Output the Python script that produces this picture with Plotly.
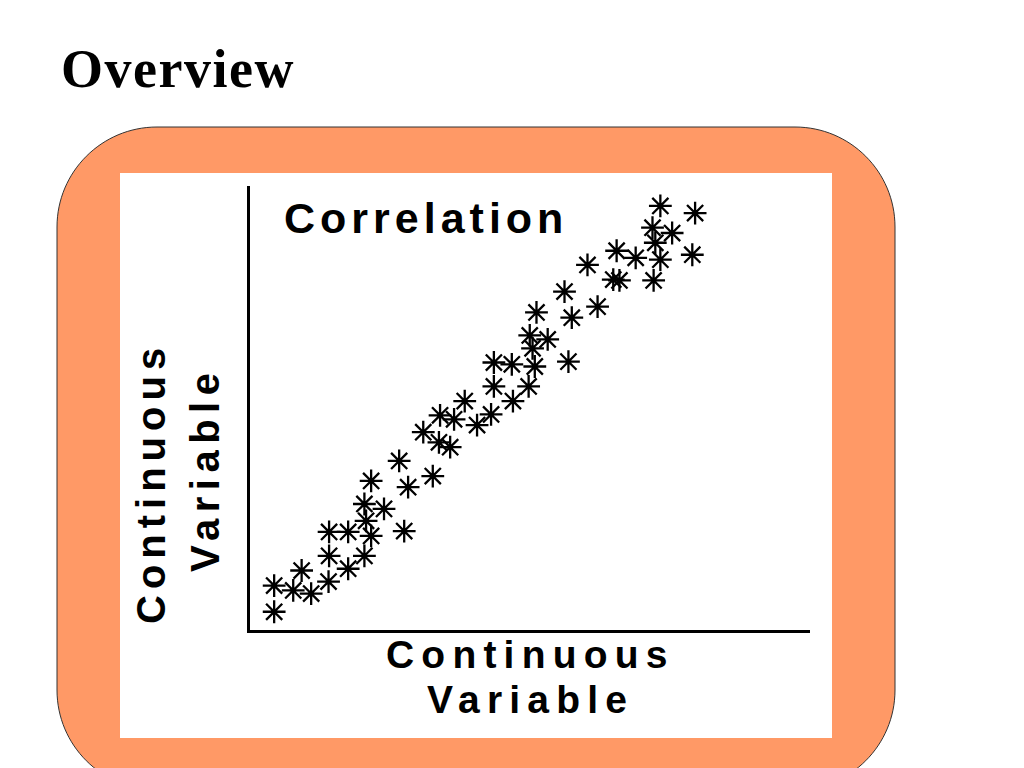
import plotly.graph_objects as go

# Data (arbitrary 0-100 units)
x_values = [73.3, 79.5, 71.9, 75.4, 72.4, 65.5, 68.9, 73.3, 79.0, 60.3,
            64.9, 66.0, 72.1, 56.2, 62.1, 51.2, 57.5, 50.0, 53.2, 50.5,
            43.6, 46.8, 50.9, 56.9, 43.6, 49.8, 47.0, 38.4, 43.1, 34.0,
            36.5, 40.6, 31.0, 33.8, 35.8, 26.7, 32.7, 21.7, 28.3, 20.5,
            24.0, 20.8, 21.7, 27.6, 14.2, 17.6, 14.2, 20.5, 17.6, 9.3,
            14.1, 4.4, 7.8, 11.0, 4.4]
y_values = [95.5, 93.9, 90.6, 89.4, 87.2, 85.4, 83.8, 83.4, 84.5, 82.2,
            78.9, 78.7, 78.7, 76.2, 72.8, 71.5, 70.3, 66.3, 65.4, 63.4,
            60.2, 59.8, 59.3, 60.4, 54.8, 54.8, 51.5, 51.5, 48.5, 48.3,
            47.4, 46.1, 44.5, 42.2, 41.1, 38.0, 34.6, 33.5, 32.1, 28.3,
            27.2, 24.5, 21.1, 22.2, 22.0, 22.0, 16.6, 16.6, 13.7, 13.3,
            10.8, 9.9, 8.8, 8.1, 4.0]

page_title = "Overview"
chart_title = "Correlation"
x_label_lines = ["Continuous", "Variable"]
y_label_lines = ["Continuous", "Variable"]

W, H = 1024, 768


def px(x):
    return x / W


def py(y):
    return 1 - y / H


def rounded_rect_path(x0, y0, x1, y1, r):
    k = 0.5523 * r
    pts = []
    pts.append(f"M {px(x0 + r)} {py(y0)}")
    pts.append(f"L {px(x1 - r)} {py(y0)}")
    pts.append(f"C {px(x1 - r + k)} {py(y0)} {px(x1)} {py(y0 + r - k)} {px(x1)} {py(y0 + r)}")
    pts.append(f"L {px(x1)} {py(y1 - r)}")
    pts.append(f"C {px(x1)} {py(y1 - r + k)} {px(x1 - r + k)} {py(y1)} {px(x1 - r)} {py(y1)}")
    pts.append(f"L {px(x0 + r)} {py(y1)}")
    pts.append(f"C {px(x0 + r - k)} {py(y1)} {px(x0)} {py(y1 - r + k)} {px(x0)} {py(y1 - r)}")
    pts.append(f"L {px(x0)} {py(y0 + r)}")
    pts.append(f"C {px(x0)} {py(y0 + r - k)} {px(x0 + r - k)} {py(y0)} {px(x0 + r)} {py(y0)}")
    pts.append("Z")
    return " ".join(pts)


fig = go.Figure()
fig.add_trace(go.Scatter(
    x=x_values, y=y_values, mode="markers",
    marker=dict(symbol="asterisk-open", size=19, color="black",
                line=dict(color="black", width=2.3)),
    hoverinfo="skip", showlegend=False,
))

shapes = [
    dict(type="path", xref="paper", yref="paper",
         path=rounded_rect_path(57, 127, 895, 790, 100),
         fillcolor="#FF9966", line=dict(color="#333333", width=1), layer="below"),
    dict(type="rect", xref="paper", yref="paper",
         x0=px(120), x1=px(832), y0=py(738), y1=py(173),
         fillcolor="white", line=dict(width=0), layer="below"),
]

sans = "Liberation Sans, Arial, sans-serif"


def spaced(t, s):
    return f'<span style="letter-spacing:{s}px">{t}</span>'


annotations = [
    dict(text=f"<b>{spaced(page_title, 1.5)}</b>", x=px(59), y=py(69), xref="paper", yref="paper",
         xanchor="left", yanchor="middle", showarrow=False,
         font=dict(family="Liberation Serif, Times New Roman, serif", size=54, color="black")),
    dict(text=f"<b>{spaced(chart_title, 5)}</b>", x=px(426), y=py(218), xref="paper", yref="paper",
         xanchor="center", yanchor="middle", showarrow=False,
         font=dict(family=sans, size=43, color="black")),
    dict(text=f"<b>{spaced(x_label_lines[0], 7.2)}</b>", x=px(530), y=py(654), xref="paper", yref="paper",
         xanchor="center", yanchor="middle", showarrow=False,
         font=dict(family=sans, size=39, color="black")),
    dict(text=f"<b>{spaced(x_label_lines[1], 7.2)}</b>", x=px(530), y=py(699), xref="paper", yref="paper",
         xanchor="center", yanchor="middle", showarrow=False,
         font=dict(family=sans, size=39, color="black")),
    dict(text=f"<b>{spaced(y_label_lines[0], 6)}</b>", x=px(151), y=py(483), xref="paper", yref="paper",
         xanchor="center", yanchor="middle", showarrow=False, textangle=-90,
         font=dict(family=sans, size=40, color="black")),
    dict(text=f"<b>{spaced(y_label_lines[1], 6.5)}</b>", x=px(205), y=py(470), xref="paper", yref="paper",
         xanchor="center", yanchor="middle", showarrow=False, textangle=-90,
         font=dict(family=sans, size=40, color="black")),
]

axis_common = dict(showgrid=False, zeroline=False, showticklabels=False, ticks="",
                   showline=True, linewidth=3, linecolor="black", mirror=False, fixedrange=True)

fig.update_layout(
    width=W, height=H, autosize=False,
    margin=dict(l=0, r=0, t=0, b=0),
    paper_bgcolor="white", plot_bgcolor="rgba(0,0,0,0)",
    shapes=shapes, annotations=annotations,
    xaxis=dict(domain=[px(249.5), px(810)], range=[0, 100], **axis_common),
    yaxis=dict(domain=[py(629.5), py(186)], range=[0, 100], **axis_common),
    showlegend=False,
)

fig.write_html("out.html", config={"displayModeBar": False},
               post_script="document.body.style.margin='0';document.body.style.overflow='hidden';")
